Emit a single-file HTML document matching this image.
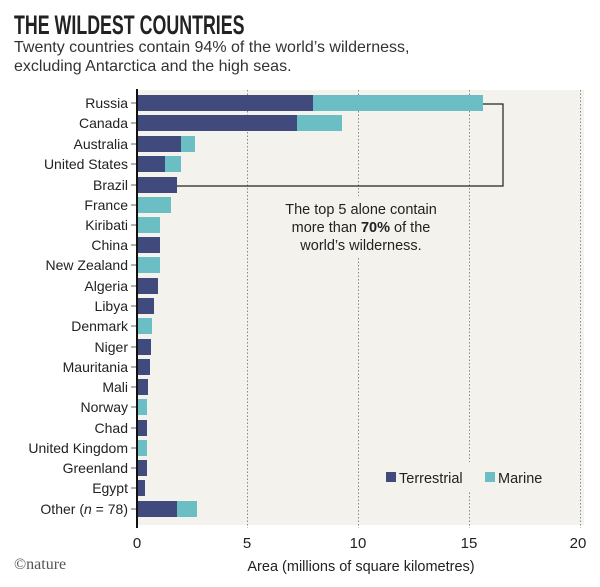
<!DOCTYPE html>
<html><head><meta charset="utf-8"><style>
body{margin:0;background:#fff}
svg{display:block;font-family:"Liberation Sans",sans-serif}
</style></head><body>
<svg width="600" height="587" viewBox="0 0 600 587" xmlns="http://www.w3.org/2000/svg">
<text x="14" y="34" font-size="27" font-weight="bold" fill="#222" transform="translate(14,34) scale(0.66,1) translate(-14,-34)">THE WILDEST COUNTRIES</text>
<text x="14" y="52" font-size="16" fill="#333">Twenty countries contain 94% of the world’s wilderness,</text>
<text x="14" y="71" font-size="16" fill="#333">excluding Antarctica and the high seas.</text>
<rect x="137" y="90" width="447" height="435" fill="#f4f2ec"/>
<g stroke="#888" stroke-width="1" stroke-dasharray="1.5,2">
<line x1="247.5" y1="90" x2="247.5" y2="528"/>
<line x1="358.5" y1="90" x2="358.5" y2="528"/>
<line x1="469.5" y1="90" x2="469.5" y2="528"/>
<line x1="580.5" y1="90" x2="580.5" y2="528"/>
</g>
<rect x="265" y="196" width="192" height="62" fill="#f4f2ec"/>
<rect x="370" y="462" width="185" height="30" fill="#f4f2ec"/>
<g fill="#414a7c">
<rect x="137" y="95" width="176" height="16"/>
<rect x="137" y="115" width="160" height="16"/>
<rect x="137" y="136" width="44" height="16"/>
<rect x="137" y="156" width="28" height="16"/>
<rect x="137" y="177" width="40" height="16"/>
<rect x="137" y="237" width="23" height="16"/>
<rect x="137" y="278" width="21" height="16"/>
<rect x="137" y="298" width="17" height="16"/>
<rect x="137" y="339" width="14" height="16"/>
<rect x="137" y="359" width="13" height="16"/>
<rect x="137" y="379" width="11" height="16"/>
<rect x="137" y="420" width="10" height="16"/>
<rect x="137" y="460" width="10" height="16"/>
<rect x="137" y="480" width="8" height="16"/>
<rect x="137" y="501" width="40" height="16"/>
</g>
<g fill="#6bbfc4">
<rect x="313" y="95" width="170" height="16"/>
<rect x="297" y="115" width="45" height="16"/>
<rect x="181" y="136" width="14" height="16"/>
<rect x="165" y="156" width="16" height="16"/>
<rect x="137" y="197" width="34" height="16"/>
<rect x="137" y="217" width="23" height="16"/>
<rect x="137" y="257" width="23" height="16"/>
<rect x="137" y="318" width="15" height="16"/>
<rect x="137" y="399" width="10" height="16"/>
<rect x="137" y="440" width="10" height="16"/>
<rect x="177" y="501" width="20" height="16"/>
</g>
<polyline points="483,104 503,104 503,186 177,186" fill="none" stroke="#222" stroke-width="1.2"/>
<line x1="137" y1="89" x2="137" y2="528" stroke="#111" stroke-width="2"/>
<g stroke="#666" stroke-width="1">
<line x1="131" y1="103" x2="136" y2="103"/><line x1="131" y1="123" x2="136" y2="123"/><line x1="131" y1="144" x2="136" y2="144"/><line x1="131" y1="164" x2="136" y2="164"/><line x1="131" y1="185" x2="136" y2="185"/><line x1="131" y1="205" x2="136" y2="205"/><line x1="131" y1="225" x2="136" y2="225"/><line x1="131" y1="245" x2="136" y2="245"/><line x1="131" y1="265" x2="136" y2="265"/><line x1="131" y1="286" x2="136" y2="286"/><line x1="131" y1="306" x2="136" y2="306"/><line x1="131" y1="326" x2="136" y2="326"/><line x1="131" y1="347" x2="136" y2="347"/><line x1="131" y1="367" x2="136" y2="367"/><line x1="131" y1="387" x2="136" y2="387"/><line x1="131" y1="407" x2="136" y2="407"/><line x1="131" y1="428" x2="136" y2="428"/><line x1="131" y1="448" x2="136" y2="448"/><line x1="131" y1="468" x2="136" y2="468"/><line x1="131" y1="488" x2="136" y2="488"/><line x1="131" y1="509" x2="136" y2="509"/>
</g>
<g font-size="14" fill="#222" text-anchor="end">
<text x="128" y="108">Russia</text><text x="128" y="128">Canada</text><text x="128" y="149">Australia</text><text x="128" y="169">United States</text><text x="128" y="190">Brazil</text><text x="128" y="210">France</text><text x="128" y="230">Kiribati</text><text x="128" y="250">China</text><text x="128" y="270">New Zealand</text><text x="128" y="291">Algeria</text><text x="128" y="311">Libya</text><text x="128" y="331">Denmark</text><text x="128" y="352">Niger</text><text x="128" y="372">Mauritania</text><text x="128" y="392">Mali</text><text x="128" y="412">Norway</text><text x="128" y="433">Chad</text><text x="128" y="453">United Kingdom</text><text x="128" y="473">Greenland</text><text x="128" y="493">Egypt</text><text x="128" y="514">Other (<tspan font-style="italic">n</tspan> = 78)</text>
</g>
<g font-size="14.5" fill="#222" text-anchor="middle">
<text x="361" y="214">The top 5 alone contain</text>
<text x="361" y="232">more than <tspan font-weight="bold">70%</tspan> of the</text>
<text x="361" y="250">world’s wilderness.</text>
</g>
<rect x="386" y="472" width="10" height="10" fill="#414a7c"/>
<text x="399" y="483" font-size="14.5" fill="#222">Terrestrial</text>
<rect x="485" y="472" width="10" height="10" fill="#6bbfc4"/>
<text x="498" y="483" font-size="14.5" fill="#222">Marine</text>
<g font-size="15" fill="#222" text-anchor="middle">
<text x="137" y="548">0</text><text x="247" y="548">5</text><text x="358" y="548">10</text><text x="469" y="548">15</text><text x="578" y="548">20</text>
</g>
<text x="361" y="571" font-size="14.5" fill="#222" text-anchor="middle">Area (millions of square kilometres)</text>
<text x="14" y="569" font-size="16" fill="#555" font-family="Liberation Serif, serif">©nature</text>
</svg>
</body></html>
